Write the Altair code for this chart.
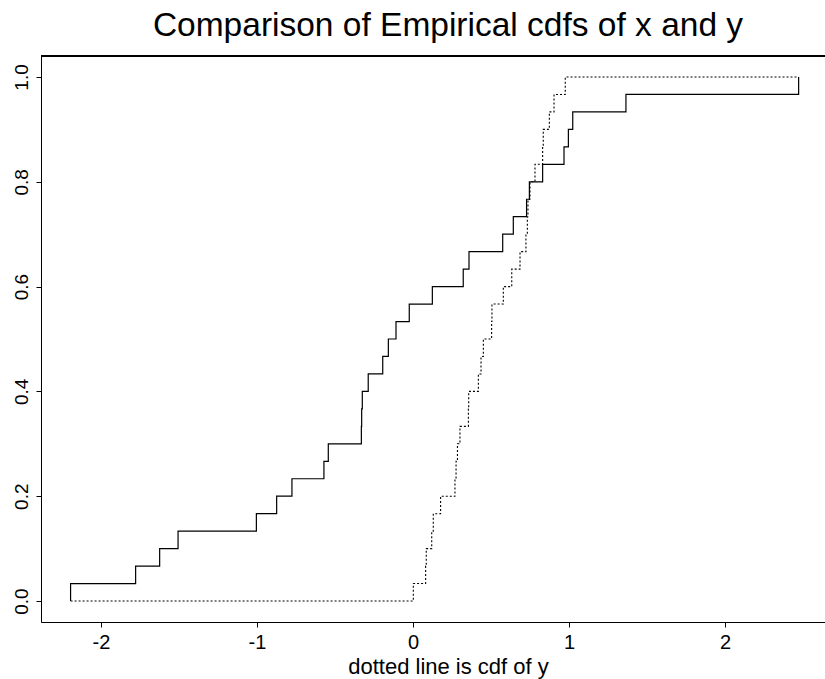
import altair as alt
import pandas as pd

# sample values (30 points each)
x_sample = [-2.195, -1.778, -1.624, -1.506, -1.004, -0.874, -0.776, -0.571, -0.543,
            -0.331, -0.329, -0.325, -0.287, -0.194, -0.158, -0.109, -0.024, 0.124,
            0.322, 0.359, 0.575, 0.643, 0.728, 0.746, 0.831, 0.968, 0.996, 1.024,
            1.365, 2.472]
y_sample = [0.002, 0.081, 0.085, 0.120, 0.130, 0.177, 0.269, 0.276, 0.285, 0.301,
            0.355, 0.357, 0.419, 0.436, 0.451, 0.504, 0.506, 0.579, 0.633, 0.686,
            0.724, 0.733, 0.737, 0.750, 0.782, 0.831, 0.835, 0.874, 0.904, 0.976]

title_text = "Comparison of Empirical cdfs of x and y"
x_axis_title = "dotted line is cdf of y"
x_ticks = [-2, -1, 0, 1, 2]
y_ticks = [0.0, 0.2, 0.4, 0.6, 0.8, 1.0]

lo = min(min(x_sample), min(y_sample))
hi = max(max(x_sample), max(y_sample))


def ecdf_rows(sample, name):
    s = sorted(sample)
    n = len(s)
    rows = [{"v": lo, "p": 0.0, "k": 0, "series": name}]
    for i, v in enumerate(s, 1):
        rows.append({"v": v, "p": i / n, "k": i, "series": name})
    rows.append({"v": hi, "p": 1.0, "k": n + 1, "series": name})
    return rows


df_x = pd.DataFrame(ecdf_rows(x_sample, "x"))
df_y = pd.DataFrame(ecdf_rows(y_sample, "y"))

FONT = "Liberation Sans"
W, H = 784, 566

x_enc = alt.X(
    "v:Q",
    scale=alt.Scale(domain=[-2.3846, 2.641], nice=False, zero=False),
    axis=alt.Axis(
        values=x_ticks,
        labelExpr="'' + datum.value",
        title=x_axis_title,
        titleFontSize=22,
        titleFont=FONT,
        titleFontWeight="normal",
        titleX=407,
        titleY=51,
        titleBaseline="alphabetic",
        titleAnchor="start",
        titleAlign="center",
        labelFontSize=20,
        labelFont=FONT,
        labelBaseline="alphabetic",
        labelPadding=21,
        tickSize=5,
        labelFlush=False,
    ),
)
y_enc = alt.Y(
    "p:Q",
    scale=alt.Scale(domain=[-0.04, 1.04], nice=False, zero=False),
    axis=alt.Axis(
        values=y_ticks,
        format=".1f",
        title=None,
        labelAngle=-90,
        labelAlign="center",
        labelBaseline="alphabetic",
        labelFontSize=19,
        labelFont=FONT,
        labelPadding=9,
        tickSize=5,
        labelFlush=False,
    ),
)

solid = alt.Chart(df_x).mark_line(
    interpolate="step-after", color="black", strokeWidth=1.2
).encode(x=x_enc, y=y_enc, order="k:Q")

dotted = alt.Chart(df_y).mark_line(
    interpolate="step-after", color="black", strokeWidth=1.1, strokeDash=[2, 2]
).encode(x="v:Q", y="p:Q", order="k:Q")

top_border = alt.Chart(df_x).mark_rule(color="black", strokeWidth=1).encode(
    x=alt.value(0), x2=alt.value(W), y=alt.value(0)
)

chart = (
    alt.layer(solid, dotted, top_border)
    .properties(
        width=W,
        height=H,
        title=alt.TitleParams(
            text=title_text,
            fontSize=33.5,
            font=FONT,
            fontWeight="normal",
            color="black",
            anchor="middle",
            dx=15,
            offset=12,
        ),
        autosize=alt.AutoSizeParams(type="none"),
        padding={"left": 41, "top": 56, "right": 0, "bottom": 57},
        background="white",
    )
    .configure_view(stroke=None)
    .configure_axis(
        grid=False,
        domainColor="black",
        tickColor="black",
        labelColor="black",
        titleColor="black",
        domainWidth=1,
        tickWidth=1,
    )
)

chart.save("out.html", embed_options={"renderer": "svg", "actions": False})
